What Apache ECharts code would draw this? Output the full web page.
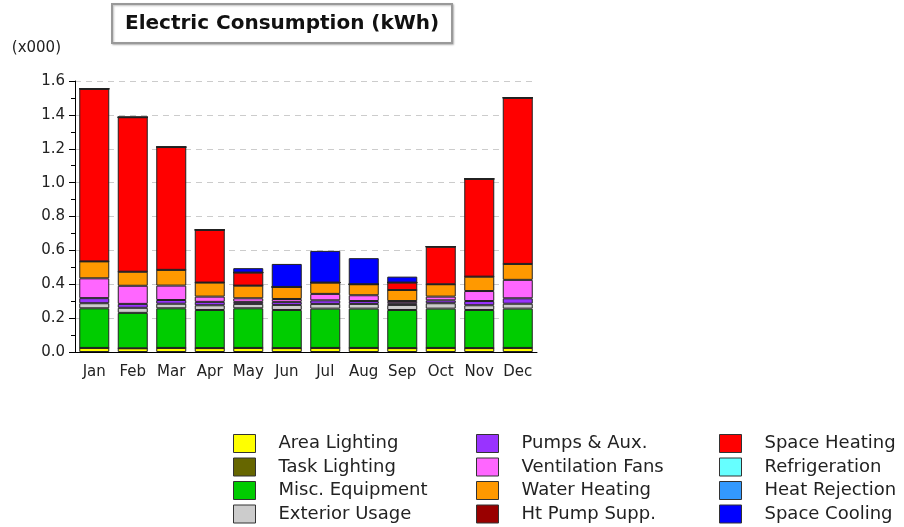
<!DOCTYPE html>
<html>
<head>
<meta charset="utf-8">
<script src="https://cdn.jsdelivr.net/npm/echarts@6/dist/echarts.min.js"></script>
<style>
html,body{margin:0;padding:0;background:#fff;}
#chart{width:904px;height:527px;}
</style>
</head>
<body>
<div id="chart"></div>
<script>
var months = ['Jan','Feb','Mar','Apr','May','Jun','Jul','Aug','Sep','Oct','Nov','Dec'];
var yTicks = [0, 0.2, 0.4, 0.6, 0.8, 1.0, 1.2, 1.4, 1.6];
var areaLighting   = [0.024,0.022,0.024,0.023,0.024,0.023,0.024,0.024,0.023,0.024,0.023,0.024];
var taskLighting   = [0,0,0,0,0,0,0,0,0,0,0,0];
var miscEquipment  = [0.234,0.209,0.234,0.225,0.234,0.225,0.232,0.232,0.225,0.232,0.225,0.232];
var exteriorUsage  = [0.030,0.030,0.027,0.028,0.026,0.030,0.028,0.028,0.030,0.032,0.028,0.029];
var pumpsAux       = [0.030,0.023,0.022,0.020,0.012,0.018,0.021,0.017,0.010,0.017,0.025,0.032];
var ventFans       = [0.117,0.107,0.085,0.031,0.021,0.017,0.038,0.034,0.013,0.022,0.059,0.109];
var waterHeating   = [0.100,0.083,0.093,0.083,0.075,0.071,0.067,0.065,0.065,0.073,0.085,0.094];
var htPumpSupp     = [0,0,0,0,0,0,0,0,0,0,0,0];
var spaceHeating   = [1.019,0.912,0.725,0.311,0.077,0,0,0,0.044,0.222,0.577,0.981];
var refrigeration  = [0,0,0,0,0,0,0,0,0,0,0,0];
var heatRejection  = [0,0,0,0,0,0,0,0,0,0,0,0];
var spaceCooling   = [0,0,0,0,0.026,0.136,0.187,0.154,0.035,0,0,0];

var seriesNames = ['Area Lighting','Task Lighting','Misc. Equipment','Exterior Usage',
  'Pumps & Aux.','Ventilation Fans','Water Heating','Ht Pump Supp.',
  'Space Heating','Refrigeration','Heat Rejection','Space Cooling'];
var seriesData = [areaLighting,taskLighting,miscEquipment,exteriorUsage,pumpsAux,ventFans,
  waterHeating,htPumpSupp,spaceHeating,refrigeration,heatRejection,spaceCooling];
var colors = ['#ffff00','#666600','#00cc00','#cccccc','#9933ff','#ff66ff',
  '#ff9900','#990000','#ff0000','#66ffff','#3399ff','#0000ff'];

var font = 'DejaVu Sans';
var series = seriesNames.map(function(n,i){
  return {
    name: n, type: 'bar', stack: 'total', barWidth: 30,
    data: seriesData[i],
    itemStyle: {color: colors[i], borderColor: '#222', borderWidth: 1},
    emphasis: {disabled: true},
    silent: true
  };
});

function legendCol(names, left){
  return {
    data: names, left: left, top: 434, orient: 'vertical',
    padding: 0, height: 93,
    icon: 'rect', itemWidth: 22, itemHeight: 18, itemGap: 4.5,
    selectedMode: false,
    itemStyle: {borderColor: '#333', borderWidth: 1},
    textStyle: {fontFamily: font, fontSize: 18, lineHeight: 18, color: '#222', padding: [0,0,0,18]}
  };
}

var chart = echarts.init(document.getElementById('chart'));
chart.setOption({
  animation: false,
  color: colors,
  title: {
    text: 'Electric Consumption (kWh)',
    left: 112, top: 4,
    padding: [10, 13, 9, 13],
    borderColor: '#999', borderWidth: 2,
    backgroundColor: '#fff',
    shadowColor: 'rgba(0,0,0,0.25)', shadowBlur: 2, shadowOffsetX: 1, shadowOffsetY: 1,
    textStyle: {fontFamily: font, fontSize: 20, fontWeight: 'bold', color: '#111'}
  },
  legend: [
    legendCol(seriesNames.slice(0,4), 233),
    legendCol(seriesNames.slice(4,8), 476),
    legendCol(seriesNames.slice(8,12), 719)
  ],
  grid: {left: 75, right: 367, top: 81, bottom: 175, containLabel: false},
  xAxis: {
    type: 'category', data: months,
    axisLine: {lineStyle: {color: '#000', width: 1}},
    axisTick: {alignWithLabel: true, interval: 0, length: 5, lineStyle: {color: '#000'}},
    axisLabel: {interval: 0, fontFamily: font, fontSize: 15, color: '#222', margin: 13}
  },
  yAxis: {
    type: 'value', min: yTicks[0], max: yTicks[yTicks.length-1], interval: 0.2,
    name: '(x000)', nameLocation: 'end', nameGap: 25,
    nameTextStyle: {fontFamily: font, fontSize: 15, color: '#222', align: 'right', padding: [0, 14, 0, 0]},
    axisLine: {show: true, lineStyle: {color: '#000', width: 1}},
    axisTick: {show: true, length: 6, lineStyle: {color: '#000'}},
    minorTick: {show: true, splitNumber: 2, length: 4, lineStyle: {color: '#000'}},
    axisLabel: {fontFamily: font, fontSize: 15, color: '#222', margin: 10,
      formatter: function(v){ return v.toFixed(1); }},
    splitLine: {show: true, lineStyle: {color: '#ccc', type: [6,5], width: 1}}
  },
  series: series
});
</script>
</body>
</html>
